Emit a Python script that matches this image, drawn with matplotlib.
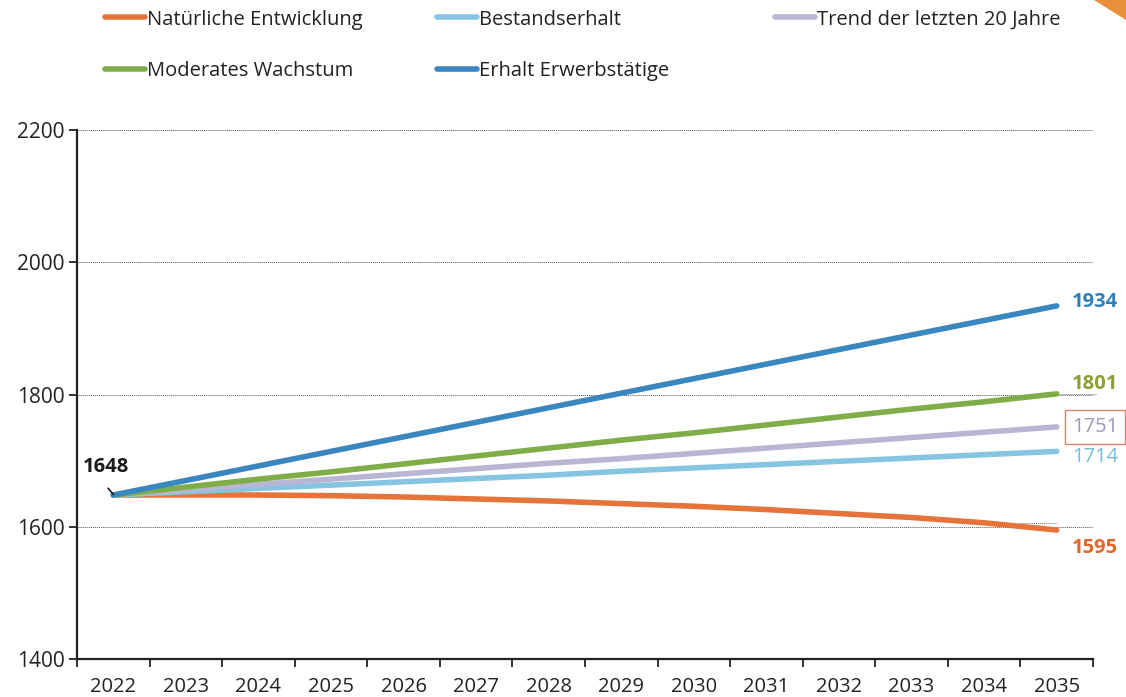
import numpy as np
import matplotlib.pyplot as plt
from matplotlib.lines import Line2D
from matplotlib.patches import Polygon

plt.rcParams["font.family"] = ["Open Sans", "DejaVu Sans"]

years = [2022, 2023, 2024, 2025, 2026, 2027, 2028, 2029, 2030, 2031, 2032, 2033, 2034, 2035]

# Szenarien (Werte je Jahr)
natuerlich = [1648, 1648, 1648, 1647, 1645, 1642, 1639, 1635, 1631, 1626, 1620, 1614, 1606, 1595]
bestand = [1648, 1653, 1658, 1663, 1668, 1673, 1678, 1684, 1689, 1694, 1699, 1704, 1709, 1714]
trend = [1648, 1656, 1664, 1672, 1680, 1688, 1696, 1703, 1711, 1719, 1727, 1735, 1743, 1751]
moderat = [1648, 1660, 1672, 1683, 1695, 1707, 1719, 1731, 1742, 1754, 1766, 1778, 1789, 1801]
erwerb = [1648, 1670, 1692, 1714, 1736, 1758, 1780, 1802, 1824, 1846, 1868, 1890, 1912, 1934]

series = [
    ("Natürliche Entwicklung", natuerlich, "#E5733A", "#E0662C", "bold"),
    ("Bestandserhalt", bestand, "#86C5E2", "#74BCDD", "normal"),
    ("Trend der letzten 20 Jahre", trend, "#B9B5D5", "#9C98BC", "normal"),
    ("Moderates Wachstum", moderat, "#7FAE48", "#8C9E35", "bold"),
    ("Erhalt Erwerbstätige", erwerb, "#3A86BF", "#2F7FB8", "bold"),
]

fs = 14.5

fig = plt.figure(figsize=(11.26, 6.97), dpi=100)
ax = fig.add_axes([0.0684, 0.0545, 0.9023, 0.759])

x = np.arange(len(years))
for name, vals, col, _, _ in series:
    ax.plot(x, vals, color=col, lw=4, solid_capstyle="round", zorder=3)

# Endwerte rechts
label_off = {"Natürliche Entwicklung": -13, "Bestandserhalt": -4, "Trend der letzten 20 Jahre": 0,
             "Moderates Wachstum": 7, "Erhalt Erwerbstätige": 3}
for name, vals, _, tcol, weight in series:
    kw = {}
    if name == "Trend der letzten 20 Jahre":
        kw["bbox"] = dict(boxstyle="square,pad=0.35", fc="white", ec="#D9826E", lw=1)
    ax.annotate(str(vals[-1]), (x[-1], vals[-1]), xytext=(11, label_off[name]),
                textcoords="offset points", ha="left", va="center",
                fontsize=fs, color=tcol, fontweight=weight, annotation_clip=False, **kw)

# Hilfslinien an den Endwerten
ax.plot([x[-1] + 0.05, x[-1] + 0.55], [moderat[-1], moderat[-1]], color="#777777", lw=0.7, ls=(0, (1, 1)), clip_on=False)
ax.plot([x[-1] - 0.5, x[-1] + 0.0], [1605, 1605], color="#777777", lw=0.7, ls=(0, (1, 1)), clip_on=False)

# Startwert
ax.annotate(str(natuerlich[0]), (x[0], natuerlich[0]), xytext=(-5, 20), textcoords="offset points",
            fontsize=fs, fontweight="bold", color="#1a1a1a", va="center", ha="center")
ax.plot([x[0] - 0.07, x[0]], [natuerlich[0] + 10, natuerlich[0] + 1], color="#1a1a1a", lw=1.2, zorder=4)

ax.set_xlim(-0.5, len(years) - 0.5)
ax.set_ylim(1400, 2200)
ax.set_yticks([1400, 1600, 1800, 2000, 2200])
ax.set_xticks(np.arange(-0.5, len(years), 1.0))
ax.set_xticklabels([])
ax.set_xticks(x, minor=True)
ax.set_xticklabels([str(y) for y in years], minor=True)
ax.tick_params(axis="x", which="major", length=6, width=1.3, color="#222222")
ax.tick_params(axis="x", which="minor", length=0, pad=13, labelsize=fs, labelcolor="#222222")
ax.tick_params(axis="y", length=6, width=1.3, color="#222222", labelsize=15, labelcolor="#222222", pad=3)

for yv in [1600, 1800, 2000, 2200]:
    ax.axhline(yv, color="#555555", lw=0.7, ls=(0, (1, 1)), zorder=1)

for s in ["top", "right"]:
    ax.spines[s].set_visible(False)
for s in ["left", "bottom"]:
    ax.spines[s].set_linewidth(1.6)
    ax.spines[s].set_color("#222222")

# Legende
handles = [Line2D([], [], color=c, lw=4, solid_capstyle="round") for _, _, c, _, _ in series]
labels = [n for n, _, _, _, _ in series]
leg_pos = [(0.093, 0.972), (0.388, 0.972), (0.688, 0.972), (0.093, 0.898), (0.388, 0.898)]
for h, l, (lx, ly) in zip(handles, labels, leg_pos):
    fig.legend([h], [l], loc="center left", bbox_to_anchor=(lx, ly), frameon=False,
               fontsize=fs, handlelength=2.0, handletextpad=0.1, borderpad=0, borderaxespad=0,
               labelcolor="#222222")

# Ecke oben rechts
fig.patches.append(Polygon([[0.972, 1.0], [1.0, 1.0], [1.0, 0.972]], closed=True,
                           transform=fig.transFigure, fc="#E8913A", ec="none"))

fig.savefig("out.png", dpi=100)
